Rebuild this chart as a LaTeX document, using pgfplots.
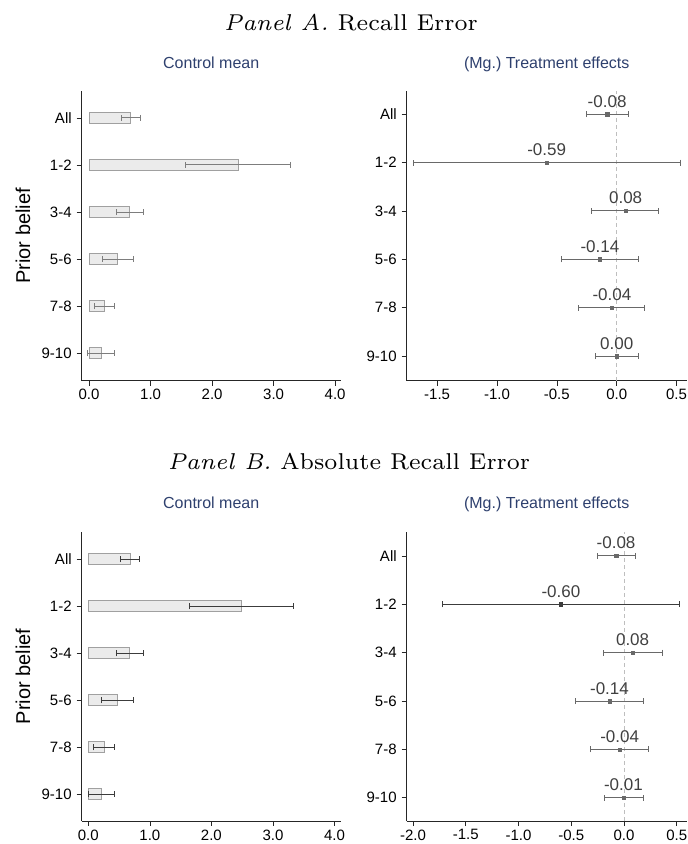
\documentclass[border=0pt]{standalone}
\usepackage{fontspec}
\usepackage{pgfplots}
\usepackage{pgfplotstable}
\pgfplotsset{compat=1.18}
\newfontfamily\arial{Liberation Sans}
\newfontfamily\lmseven{lmroman7-regular.otf}[ItalicFont=lmroman7-italic.otf]
\definecolor{subblue}{RGB}{46,64,110}
\definecolor{barfill}{RGB}{235,235,235}
\definecolor{bardraw}{RGB}{160,160,160}
\definecolor{errA}{RGB}{125,125,125}
\definecolor{errB}{RGB}{60,60,60}
\definecolor{ptgray}{RGB}{105,105,105}
\definecolor{labgray}{RGB}{64,64,64}
\definecolor{dashgray}{RGB}{190,190,190}
\newcommand\tickfont{\arial\fontsize{15}{18}\selectfont}
\newcommand\labfont{\arial\fontsize{17}{20}\selectfont}
\newcommand\subfont{\arial\fontsize{16}{19}\selectfont}
\frenchspacing

% y: 6=All, 5=1-2, 4=3-4, 3=5-6, 2=7-8, 1=9-10
\pgfplotstableread{
y m em ep
6 0.68 0.15 0.15
5 2.43 0.86 0.85
4 0.66 0.22 0.22
3 0.46 0.25 0.26
2 0.25 0.17 0.17
1 0.20 0.22 0.21
}\leftA
\pgfplotstableread{
y m em ep lab
6 -0.080 0.176 0.177 -0.08
5 -0.585 1.115 1.115 -0.59
4 0.075 0.285 0.275 0.08
3 -0.140 0.325 0.320 -0.14
2 -0.040 0.280 0.270 -0.04
1 0.000 0.180 0.185 0.00
}\rightA
\pgfplotstableread{
y m em ep
6 0.68 0.15 0.15
5 2.48 0.84 0.85
4 0.67 0.22 0.22
3 0.47 0.25 0.26
2 0.26 0.18 0.17
1 0.21 0.21 0.21
}\leftB
\pgfplotstableread{
y m em ep lab
6 -0.075 0.178 0.185 -0.08
4 0.082 0.272 0.282 0.08
3 -0.137 0.319 0.321 -0.14
2 -0.041 0.272 0.272 -0.04
1 -0.005 0.182 0.189 -0.01
}\rightB
\pgfplotstableread{
y m em ep lab
5 -0.598 1.122 1.128 -0.60
}\rightBb

\pgfplotsset{
  common/.style={
    scale only axis, anchor=south west,
    axis x line*=bottom, axis y line*=left,
    axis line style={line width=0.7pt, black!85},
    tick align=outside, major tick length=5pt,
    tick style={line width=0.6pt, black!85},
    ytick={1,2,3,4,5,6}, yticklabels={9-10,7-8,5-6,3-4,1-2,All},
    tick label style={font=\tickfont, text=black},
    yticklabel style={xshift=-1.5pt},
    clip=false,
  },
  leftax/.style={common, width=259pt, xtick={0,1,2,3,4}, xticklabels={0.0,1.0,2.0,3.0,4.0},
    ylabel={Prior belief},
    ylabel style={font=\arial\fontsize{20}{24}\selectfont, at={(axis description cs:-0.2266,0.5)}, anchor=center},
  },
  rightax/.style={common, width=280pt},
  bars/.style={xbar, bar width=11pt, bar shift=0pt, fill=barfill, draw=bardraw, line width=0.9pt,
    error bars/.cd, x dir=both, x explicit,
    error bar style={line width=1pt, color=#1},
    error mark options={line width=0.9pt, color=#1, mark size=3pt, rotate=90}},
  pts/.style={only marks, mark=square*, mark size=1.7pt, color=#1,
    nodes near coords, point meta=explicit symbolic,
    nodes near coords style={font=\labfont, text=labgray, anchor=base, yshift=7pt},
    error bars/.cd, x dir=both, x explicit,
    error bar style={line width=1pt, color=#1},
    error mark options={line width=0.9pt, color=#1, mark size=3pt, rotate=90}},
}

\begin{document}
\begin{tikzpicture}
\useasboundingbox (0,0) rectangle (688pt,844pt);

\node[anchor=base, font=\lmseven\fontsize{22.9}{27}\selectfont] at (351pt,813.7pt) {\textit{Panel A.} Recall Error};
\node[anchor=base, font=\lmseven\fontsize{22.9}{27}\selectfont] at (349pt,374pt) {\textit{Panel B.} Absolute Recall Error};

\node[anchor=base, font=\subfont, text=subblue] at (211.2pt,775.7pt) {Control mean};
\node[anchor=base, font=\subfont, text=subblue] at (546.7pt,775.7pt) {(Mg.) Treatment effects};
\node[anchor=base, font=\subfont, text=subblue] at (211.2pt,335pt) {Control mean};
\node[anchor=base, font=\subfont, text=subblue] at (546.7pt,335pt) {(Mg.) Treatment effects};

% Panel A left
\begin{axis}[leftax, at={(81.7pt,463.3pt)}, height=289.7pt,
  xmin=-0.12, xmax=4.09, ymin=0.42, ymax=6.57]
\addplot[bars=errA] table[x=m, y=y, x error plus=ep, x error minus=em] {\leftA};
\end{axis}

% Panel A right
\begin{axis}[rightax, at={(406.7pt,463.3pt)}, height=289.7pt,
  xmin=-1.754, xmax=0.585, ymin=0.49, ymax=6.48,
  xtick={-1.5,-1,-0.5,0,0.5}, xticklabels={-1.5,-1.0,-0.5,0.0,0.5}]
\addplot[dashgray, line width=0.7pt, dash pattern=on 4pt off 3pt, forget plot] coordinates {(0,0.49) (0,6.48)};
\addplot[pts=ptgray] table[x=m, y=y, x error plus=ep, x error minus=em, meta=lab] {\rightA};
\end{axis}

% Panel B left
\begin{axis}[leftax, at={(81.7pt,23pt)}, height=289.3pt,
  xmin=-0.107, xmax=4.10, ymin=0.43, ymax=6.59]
\addplot[bars=errB] table[x=m, y=y, x error plus=ep, x error minus=em] {\leftB};
\end{axis}

% Panel B right
\begin{axis}[rightax, at={(406.7pt,23pt)}, height=289.3pt,
  xmin=-2.06, xmax=0.595, ymin=0.52, ymax=6.50,
  xtick={-2,-1.5,-1,-0.5,0,0.5}, xticklabels={-2.0,-1.5,-1.0,-0.5,0.0,0.5}]
\addplot[dashgray, line width=0.7pt, dash pattern=on 4pt off 3pt, forget plot] coordinates {(0,0.52) (0,6.50)};
\addplot[pts=ptgray] table[x=m, y=y, x error plus=ep, x error minus=em, meta=lab] {\rightB};
\addplot[pts=errB] table[x=m, y=y, x error plus=ep, x error minus=em, meta=lab] {\rightBb};
\end{axis}
\end{tikzpicture}
\end{document}
